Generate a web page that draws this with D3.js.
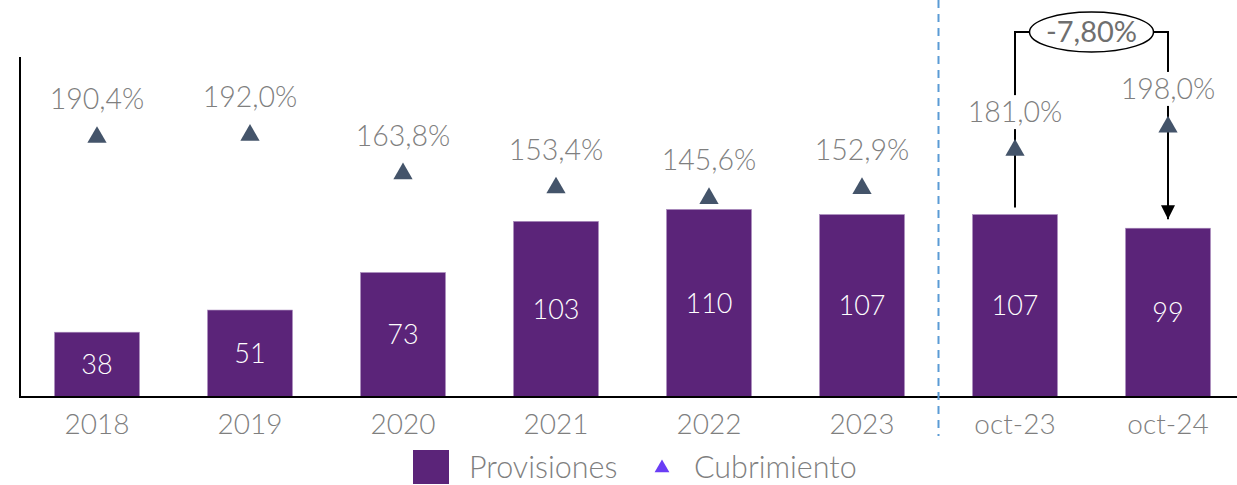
<!DOCTYPE html>
<html>
<head>
<meta charset="utf-8">
<script src="https://cdn.jsdelivr.net/npm/d3@7"></script>
<style>
  body { margin: 0; background: #fff; }
  svg text { font-family: "Lato", "Open Sans", sans-serif; font-weight: 300; }
</style>
</head>
<body>
<div id="container"></div>
<script>
  // data
  const categories = ["2018", "2019", "2020", "2021", "2022", "2023", "oct-23", "oct-24"];
  const provisiones = [38, 51, 73, 103, 110, 107, 107, 99];
  const cubrimiento = [190.4, 192.0, 163.8, 153.4, 145.6, 152.9, 181.0, 198.0];
  const changeLabel = "-7,80%";

  const W = 1237, H = 485;
  const fmtPct = d => d.toFixed(1).replace(".", ",") + "%";

  const svg = d3.select("#container").append("svg")
    .attr("width", W).attr("height", H);

  const x = d3.scaleBand()
    .domain(categories)
    .range([20.5, 20.5 + 153 * categories.length])
    .paddingInner(0.445)
    .paddingOuter(0.2225);

  const y = d3.scaleLinear().domain([0, 200]).range([397, 56]);   // provisiones
  const y2 = d3.scaleLinear().domain([0, 250]).range([397, 56]);  // cubrimiento %

  const cx = d => x(d) + x.bandwidth() / 2;

  // bars
  svg.append("g").selectAll("rect")
    .data(categories)
    .join("rect")
    .attr("x", d => x(d))
    .attr("y", (d, i) => y(provisiones[i]))
    .attr("width", x.bandwidth())
    .attr("height", (d, i) => y(0) - y(provisiones[i]))
    .attr("fill", "#5b2479")
    .attr("stroke", "#a98bbd")
    .attr("stroke-width", 0.6);

  // bar values
  svg.append("g").selectAll("text")
    .data(categories)
    .join("text")
    .attr("x", d => cx(d))
    .attr("y", (d, i) => (y(provisiones[i]) + y(0)) / 2)
    .attr("dy", "0.35em")
    .attr("text-anchor", "middle")
    .attr("font-size", 27)
    .attr("fill", "#fff")
    .text((d, i) => provisiones[i]);

  // axes lines
  svg.append("line").attr("x1", 20).attr("x2", 20).attr("y1", 57).attr("y2", 397)
    .attr("stroke", "#000").attr("stroke-width", 2);
  svg.append("line").attr("x1", 19).attr("x2", W).attr("y1", 397).attr("y2", 397)
    .attr("stroke", "#000").attr("stroke-width", 2);

  // category labels
  svg.append("g").selectAll("text")
    .data(categories)
    .join("text")
    .attr("x", d => cx(d))
    .attr("y", 424)
    .attr("dy", "0.35em")
    .attr("text-anchor", "middle")
    .attr("font-size", 28)
    .attr("fill", "#7f7f7f")
    .text(d => d);

  // separator
  const sepX = x("oct-23") - (x.step() - x.bandwidth()) / 2;
  svg.append("line").attr("x1", sepX).attr("x2", sepX).attr("y1", 0).attr("y2", 436)
    .attr("stroke", "#5b9bd5").attr("stroke-width", 2).attr("stroke-dasharray", "8,6");

  // bracket for the change
  const topY = 32;
  const aX = cx("oct-23"), bX = cx("oct-24");
  const midX = (aX + bX) / 2;
  const rx = 62, ry = 20;
  svg.append("defs").append("marker")
    .attr("id", "arrow").attr("viewBox", "0 0 10 10")
    .attr("refX", 10).attr("refY", 5)
    .attr("markerWidth", 7).attr("markerHeight", 7)
    .attr("markerUnits", "strokeWidth")
    .attr("orient", "auto")
    .append("path").attr("d", "M0,0L10,5L0,10z").attr("fill", "#000");

  svg.append("path")
    .attr("d", `M${aX},${y(provisiones[6]) - 7}V${topY}H${midX - rx}`)
    .attr("fill", "none").attr("stroke", "#000").attr("stroke-width", 2);
  svg.append("path")
    .attr("d", `M${midX + rx},${topY}H${bX}V${y(provisiones[7]) - 9}`)
    .attr("fill", "none").attr("stroke", "#000").attr("stroke-width", 2)
    .attr("marker-end", "url(#arrow)");
  svg.append("ellipse")
    .attr("cx", midX).attr("cy", topY).attr("rx", rx).attr("ry", ry)
    .attr("fill", "#fff").attr("stroke", "#000").attr("stroke-width", 1.5);
  svg.append("text")
    .attr("x", midX).attr("y", topY).attr("dy", "0.35em")
    .attr("text-anchor", "middle").attr("font-size", 29).attr("fill", "#6f6f6f")
    .style("font-weight", 400)
    .text(changeLabel);

  // percentage labels with white background
  const pct = svg.append("g").selectAll("g")
    .data(categories)
    .join("g")
    .attr("transform", (d, i) => `translate(${cx(d)},${y2(cubrimiento[i]) - 38})`);
  pct.append("rect")
    .attr("x", -50).attr("y", -17).attr("width", 100).attr("height", 34)
    .attr("fill", "#fff");
  pct.append("text")
    .attr("dy", "0.35em")
    .attr("text-anchor", "middle")
    .attr("font-size", 28.5)
    .attr("fill", "#7f7f7f")
    .text((d, i) => fmtPct(cubrimiento[i]));

  // triangles
  const tri = d3.symbol().type(d3.symbolTriangle).size(160);
  svg.append("g").selectAll("path")
    .data(categories)
    .join("path")
    .attr("transform", (d, i) => `translate(${cx(d)},${y2(cubrimiento[i])})`)
    .attr("d", tri)
    .attr("fill", "#44546a");

  // legend
  const lg = svg.append("g");
  lg.append("rect").attr("x", 413).attr("y", 450).attr("width", 36).attr("height", 34)
    .attr("fill", "#5b2479");
  lg.append("text").attr("x", 469).attr("y", 467).attr("dy", "0.35em")
    .attr("font-size", 30.5).attr("fill", "#7f7f7f").text("Provisiones");
  lg.append("path").attr("transform", "translate(662,468)")
    .attr("d", d3.symbol().type(d3.symbolTriangle).size(95))
    .attr("fill", "#6a3df5");
  lg.append("text").attr("x", 694).attr("y", 467).attr("dy", "0.35em")
    .attr("font-size", 30.5).attr("fill", "#7f7f7f").text("Cubrimiento");
</script>
</body>
</html>
